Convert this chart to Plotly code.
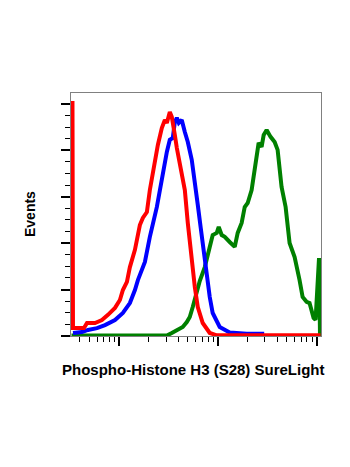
import plotly.graph_objects as go

# x values given as log10 of fluorescence intensity, y as events
red_logfi = [2.530, 2.535, 2.646, 2.677, 2.758, 2.828, 2.889, 2.960, 3.010, 3.040, 3.081, 3.111,
             3.162, 3.212, 3.242, 3.283, 3.313, 3.364, 3.394, 3.434, 3.465, 3.485, 3.515, 3.535,
             3.545, 3.566, 3.586, 3.616, 3.646, 3.667, 3.697, 3.737, 3.768, 3.798, 3.848, 3.919,
             3.990, 5.040]
red_events = [101.3, 3.4, 3.4, 5.6, 5.6, 6.9, 9.1, 12.1, 15.5, 19.8, 23.3, 29.7,
              37.1, 47.8, 50.9, 53.4, 62.9, 76.7, 82.3, 89.6, 93.1, 91.8, 96.5, 94.4,
              90.9, 86.6, 81.0, 75.0, 68.1, 62.9, 48.7, 31.5, 21.1, 12.5, 5.6, 1.3,
              0.3, 0.3]

blue_logfi = [2.535, 2.626, 2.687, 2.778, 2.859, 2.960, 3.040, 3.111, 3.162, 3.192, 3.263, 3.313,
              3.384, 3.414, 3.444, 3.485, 3.515, 3.545, 3.566, 3.586, 3.606, 3.636, 3.667, 3.697,
              3.737, 3.768, 3.798, 3.828, 3.859, 3.889, 3.919, 3.949, 4.020, 4.121, 4.293, 4.470]
blue_events = [1.3, 1.7, 2.6, 3.4, 4.7, 6.9, 9.9, 14.2, 19.8, 24.1, 31.9, 42.7,
               55.6, 62.9, 70.7, 79.3, 84.5, 85.3, 92.2, 94.0, 91.8, 93.1, 87.9, 83.6,
               75.9, 67.2, 56.5, 46.5, 35.8, 25.4, 16.8, 9.9, 3.9, 1.5, 1.0, 1.0]

green_logfi = [2.520, 3.485, 3.535, 3.586, 3.646, 3.687, 3.717, 3.747, 3.788, 3.818, 3.869, 3.919,
               3.949, 3.990, 4.010, 4.040, 4.071, 4.121, 4.172, 4.202, 4.242, 4.273, 4.303, 4.343,
               4.364, 4.394, 4.414, 4.444, 4.465, 4.495, 4.535, 4.576, 4.606, 4.646, 4.687, 4.727,
               4.778, 4.828, 4.859, 4.899, 4.929, 4.970, 4.990, 5.025, 5.035]
green_events = [0.2, 0.2, 1.3, 2.6, 3.9, 6.0, 8.2, 12.5, 19.8, 23.7, 29.7, 38.4,
                43.5, 44.4, 47.0, 43.5, 42.7, 40.5, 38.4, 44.4, 48.7, 55.6, 57.3, 62.9,
                68.5, 78.9, 83.2, 81.5, 86.6, 88.8, 85.8, 83.6, 80.2, 64.2, 55.6, 40.1,
                34.0, 24.1, 16.8, 14.7, 14.2, 7.8, 6.9, 33.6, 0.0]

x_title = "Phospho-Histone H3 (S28) SureLight"
y_title = "Events"

major_x = [1e3, 1e4, 1e5]
minor_x = [d * 10 ** e for e in (2, 3, 4) for d in range(2, 10)]

fig = go.Figure()
for xs, ys, col in [(green_logfi, green_events, "#008000"),
                    (blue_logfi, blue_events, "#0000FF"),
                    (red_logfi, red_events, "#FF0000")]:
    fig.add_trace(go.Scatter(x=[10 ** v for v in xs], y=ys, mode="lines",
                             line=dict(color=col, width=4), hoverinfo="skip"))

fig.update_layout(
    width=350, height=467,
    margin=dict(l=63, r=37, t=85, b=139),
    paper_bgcolor="white", plot_bgcolor="white",
    showlegend=False,
    font=dict(family="Liberation Sans, Arial, sans-serif", color="black"),
)
fig.update_xaxes(
    type="log", range=[2.515, 5.045],
    tickmode="array", tickvals=major_x, showticklabels=False,
    ticks="outside", ticklen=9, tickwidth=2, tickcolor="black",
    minor=dict(tickmode="array", tickvals=minor_x, ticks="outside", ticklen=5,
               tickwidth=1, tickcolor="black", showgrid=False),
    showgrid=False, zeroline=False,
    showline=True, linecolor="#808080", linewidth=1, mirror=True,
)
fig.update_yaxes(
    range=[0, 104.7],
    tickmode="linear", tick0=0, dtick=20, showticklabels=False,
    ticks="outside", ticklen=9, tickwidth=2, tickcolor="black",
    minor=dict(dtick=5, ticks="outside", ticklen=5, tickwidth=1,
               tickcolor="black", showgrid=False),
    showgrid=False, zeroline=False,
    showline=True, linecolor="#808080", linewidth=1, mirror=True,
)
fig.add_annotation(text=f"<b>{x_title}</b>", xref="paper", yref="paper",
                   x=0.49, y=-0.137, showarrow=False, font=dict(size=15),
                   xanchor="center", yanchor="middle")
fig.add_annotation(text=f"<b>{y_title}</b>", xref="paper", yref="paper",
                   x=-0.164, y=0.502, showarrow=False, font=dict(size=14),
                   textangle=-90, xanchor="center", yanchor="middle")

fig.write_html("out.html")
